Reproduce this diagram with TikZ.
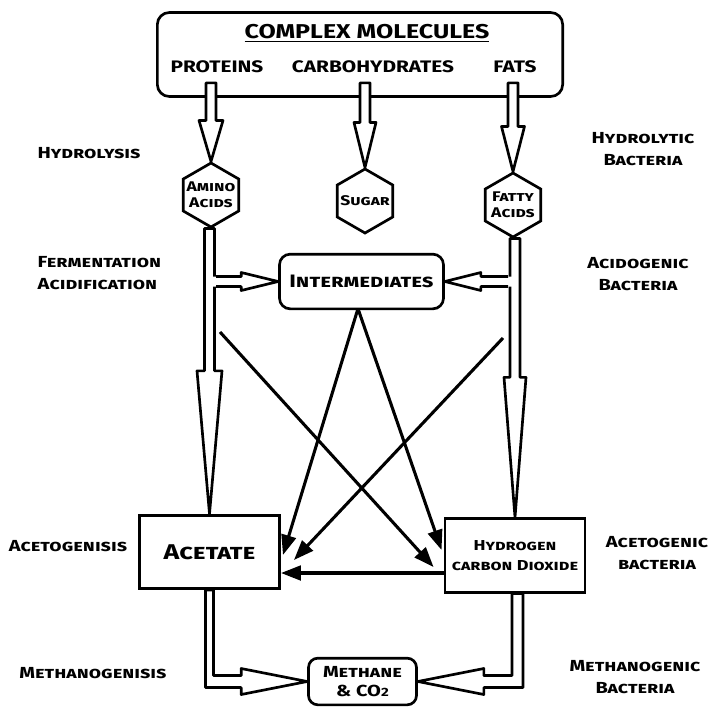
\documentclass[tikz,border=0pt]{standalone}
\usepackage{fontspec}
\setmainfont{Fira Sans}[FakeStretch=1.25]
\usetikzlibrary{arrows.meta,calc,shapes.geometric}

% hollow arrow pointing down, from #1 to tip #2, head length #3, head half width #4
\newcommand{\hollowdown}[4]{%
  \filldraw[hollow] ($(#2 |- #1)+(-5,0)$) -- ($(#2)+(-5,-#3)$) -- ($(#2)+(-#4,-#3)$) -- (#2)
    -- ($(#2)+(#4,-#3)$) -- ($(#2)+(5,-#3)$) -- ($(#2 |- #1)+(5,0)$) -- cycle;}
% side branches off a shaft
\newcommand{\hollowright}[4]{%
  \fill[white] ($(#1)+(0,-5)$) -- ($(#2)+(-#3,-5)$) -- ($(#2)+(-#3,-#4)$) -- (#2)
    -- ($(#2)+(-#3,#4)$) -- ($(#2)+(-#3,5)$) -- ($(#1)+(0,5)$) -- cycle;
  \draw[hollow] ($(#1)+(5,-5)$) -- ($(#2)+(-#3,-5)$) -- ($(#2)+(-#3,-#4)$) -- (#2)
    -- ($(#2)+(-#3,#4)$) -- ($(#2)+(-#3,5)$) -- ($(#1)+(5,5)$);}
\newcommand{\hollowleft}[4]{%
  \fill[white] ($(#1)+(0,-5)$) -- ($(#2)+(#3,-5)$) -- ($(#2)+(#3,-#4)$) -- (#2)
    -- ($(#2)+(#3,#4)$) -- ($(#2)+(#3,5)$) -- ($(#1)+(0,5)$) -- cycle;
  \draw[hollow] ($(#1)+(-5,-5)$) -- ($(#2)+(#3,-5)$) -- ($(#2)+(#3,-#4)$) -- (#2)
    -- ($(#2)+(#3,#4)$) -- ($(#2)+(#3,5)$) -- ($(#1)+(-5,5)$);}

\begin{document}
\begin{tikzpicture}[x=0.75pt, y=-0.75pt,
  molbox/.style={rectangle, draw, line width=2pt, rounded corners=9pt,
                 minimum width=304pt, minimum height=63pt},
  stage/.style={rectangle, draw, line width=2pt, rounded corners=8pt, align=center,
                font=\fontsize{13.5}{15}\selectfont\bfseries\scshape},
  product/.style={rectangle, draw, line width=2.2pt, align=center,
                  minimum width=105pt, minimum height=55pt},
  hexa/.style={regular polygon, regular polygon sides=6, shape border rotate=30,
               draw, line width=2pt, minimum size=48pt, inner sep=0pt},
  hextext/.style={font=\fontsize{10.5}{12}\selectfont\bfseries\scshape, align=center, inner sep=0pt},
  item/.style={font=\fontsize{12.5}{14}\selectfont\bfseries},
  lbl/.style={font=\fontsize{12}{16.5}\selectfont\bfseries\scshape, align=center},
  hollow/.style={draw, fill=white, line width=2pt, line join=round},
  linkarrow/.style={-{Triangle[length=15pt, width=11pt]}, line width=2.3pt}
]
\useasboundingbox (0,0) rectangle (716,707);

% Complex molecules
\node[molbox] (molecules) at (360,54.5) {};
\node[item, font=\fontsize{15}{17}\selectfont\bfseries] (molTitle) at (367,33) {\underline{COMPLEX MOLECULES}};
\node[item] (proteins) at (217,67) {PROTEINS};
\node[item] (carbs) at (373,67) {CARBOHYDRATES};
\node[item] (fats) at (515,67) {FATS};

% Hydrolysis products
\node[hexa] (amino) at (211,195) {};
\node[hextext] (aminoT) at (amino) {Amino\\Acids};
\node[hexa] (sugar) at (365,201) {};
\node[hextext] (sugarT) at (sugar) {Sugar};
\node[hexa] (fatty) at (513,205) {};
\node[hextext] (fattyT) at (fatty) {Fatty\\Acids};

% Intermediates, acetate, hydrogen
\node[stage, minimum width=123pt, minimum height=41pt] (inter) at (361.5,281.5) {Intermediates};
\node[product, font=\fontsize{16}{18}\selectfont\bfseries\scshape] (acetate) at (209.5,552) {Acetate};
\node[product, font=\fontsize{10.8}{15}\selectfont\bfseries\scshape] (h2) at (515,555.5) {Hydrogen\\carbon Dioxide};
\node[stage, rounded corners=7pt, minimum width=81pt, minimum height=35pt,
      font=\fontsize{12}{14}\selectfont\bfseries\scshape] (methane) at (362.5,681.5) {Methane\\\& CO{\fontsize{9}{9}\selectfont 2}};

% Side labels
\node[lbl] (hydrolysis) at (89,153) {Hydrolysis};
\node[lbl] (hydroBac) at (643,149) {Hydrolytic\\Bacteria};
\node[lbl, align=left, anchor=west] (ferment) at (33,273) {Fermentation\\Acidification};
\node[lbl] (acidoBac) at (638,274) {Acidogenic\\Bacteria};
\node[lbl] (acetoGen) at (68,546) {Acetogenisis};
\node[lbl] (acetoBac) at (657,553) {Acetogenic\\bacteria};
\node[lbl] (methGen) at (93,673) {Methanogenisis};
\node[lbl] (methBac) at (635,677) {Methanogenic\\Bacteria};

% Hollow arrows - hydrolysis
\coordinate (protTop) at ($(molecules.south -| amino.north)+(0,-15)$);
\coordinate (carbTop) at ($(molecules.south -| sugar.north)+(0,-15)$);
\coordinate (fatTop) at ($(molecules.south -| fatty.north)+(0,-15)$);
\hollowdown{protTop}{amino.north}{41}{12}
\hollowdown{carbTop}{sugar.north}{45}{11}
\hollowdown{fatTop}{fatty.north}{45}{11.5}

% Hollow arrows - fermentation
\hollowdown{amino.south}{acetate.north}{143}{12.5}
\hollowdown{fatty.south}{h2.north}{140}{11}
\hollowright{amino.south |- inter.west}{inter.west}{37}{9}
\hollowleft{fatty.south |- inter.east}{inter.east}{36}{9}

% Hollow arrows - methanogenesis
\filldraw[hollow] ($(acetate.south)+(-4,0)$) -- ($(acetate.south |- methane.west)+(-4,6)$)
  -- ($(methane.west)+(-66,6)$) -- ($(methane.west)+(-66,13)$) -- (methane.west)
  -- ($(methane.west)+(-66,-13)$) -- ($(methane.west)+(-66,-6)$)
  -- ($(acetate.south |- methane.west)+(4,-6)$) -- ($(acetate.south)+(4,0)$) -- cycle;
\filldraw[hollow] ($(h2.south)+(8,0)$) -- ($(h2.south |- methane.east)+(8,6)$)
  -- ($(methane.east)+(66,6)$) -- ($(methane.east)+(66,13)$) -- (methane.east)
  -- ($(methane.east)+(66,-13)$) -- ($(methane.east)+(66,-6)$)
  -- ($(h2.south |- methane.east)+(-3,-6)$) -- ($(h2.south)+(-3,0)$) -- cycle;

% Thin arrows - acetogenesis
\coordinate (aminoOut) at (220,332);
\coordinate (fattyOut) at (503,338);
\draw[linkarrow] (aminoOut) -- ($(h2.west)+(-10,11.5)$);
\draw[linkarrow] (fattyOut) -- ($(acetate.east)+(13,8)$);
\draw[linkarrow] ($(inter.south)+(-4,0)$) -- ($(acetate.east)+(2,3)$);
\draw[linkarrow] ($(inter.south)+(-3,0)$) -- ($(h2.west)+(-2,-5.5)$);
\draw[linkarrow] ($(h2.west)+(0,17.5)$) -- ($(acetate.east)+(0,21)$);

\end{tikzpicture}
\end{document}
